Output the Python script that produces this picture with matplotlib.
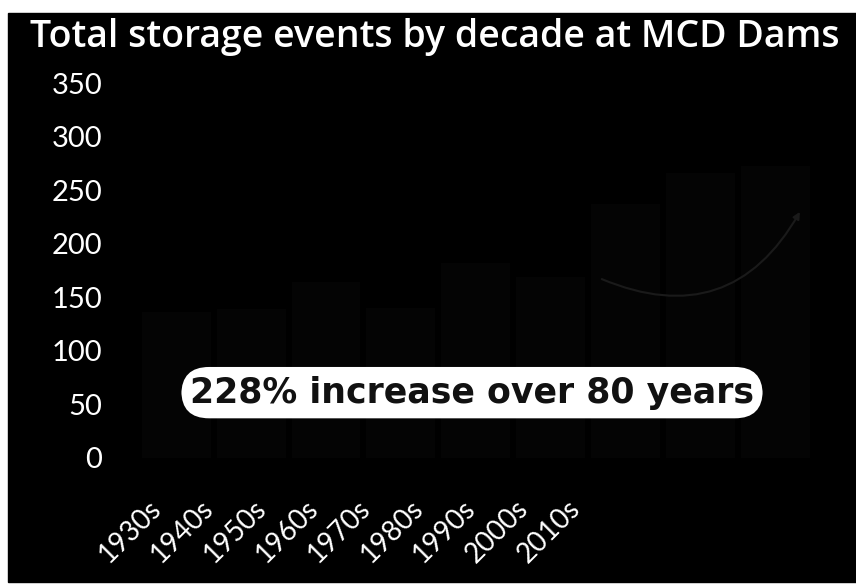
import matplotlib.pyplot as plt
import matplotlib.patches as patches
import numpy as np

decades = ['1930s', '1940s', '1950s', '1960s', '1970s', '1980s', '1990s', '2000s', '2010s']
events = [136, 139, 164, 140, 182, 169, 237, 266, 273]
note = '228% increase over 80 years'

fig = plt.figure(figsize=(8.56, 5.84), dpi=100, facecolor='white')
# black panel (scan has a thin white margin)
fig.patches.append(patches.Rectangle((8 / 856, 2 / 584), 1, 569 / 584,
                                     transform=fig.transFigure, color='black', zorder=-10))

ax = fig.add_axes([130 / 856, 126 / 584, 690 / 856, 375 / 584])
ax.set_facecolor('none')

x = np.arange(len(decades))
ax.bar(x, events, width=0.92, color='#040404', edgecolor='none')

# faint swoosh arrow over the last decades
ax.annotate('', xy=(8.35, 232), xytext=(5.65, 168),
            arrowprops=dict(arrowstyle='-|>', color='#1a1a1a', lw=1.5,
                            connectionstyle='arc3,rad=0.45'))

ax.set_xlim(-0.6, 8.6)
ax.set_ylim(0, 350)
ax.set_yticks(np.arange(0, 351, 50))
ax.tick_params(axis='y', length=0, pad=20, labelsize=21, labelcolor='white')
# labels in the picture sit on a tighter spacing than the bars
label_pos = np.linspace(-0.62, 4.98, len(decades))
ax.set_xticks(label_pos)
ax.set_xticklabels(decades, rotation=45, ha='center', va='top')
ax.tick_params(axis='x', length=0, pad=27, labelsize=20, labelcolor='white')
for lab in ax.get_xticklabels() + ax.get_yticklabels():
    lab.set_fontfamily('Lato')
for s in ax.spines.values():
    s.set_visible(False)

ax.text(3.95, 61, note, ha='center', va='center', fontsize=25,
        fontfamily='DejaVu Sans', fontweight='bold', color='#111111',
        bbox=dict(boxstyle='round,pad=0.25,rounding_size=0.8', fc='white', ec='none'))

fig.text(0.508, 0.937, 'Total storage events by decade at MCD Dams', ha='center', va='center',
         fontsize=27, fontfamily='Open Sans', fontweight='semibold', color='white')

plt.savefig('out.png', dpi=100, facecolor=fig.get_facecolor())
